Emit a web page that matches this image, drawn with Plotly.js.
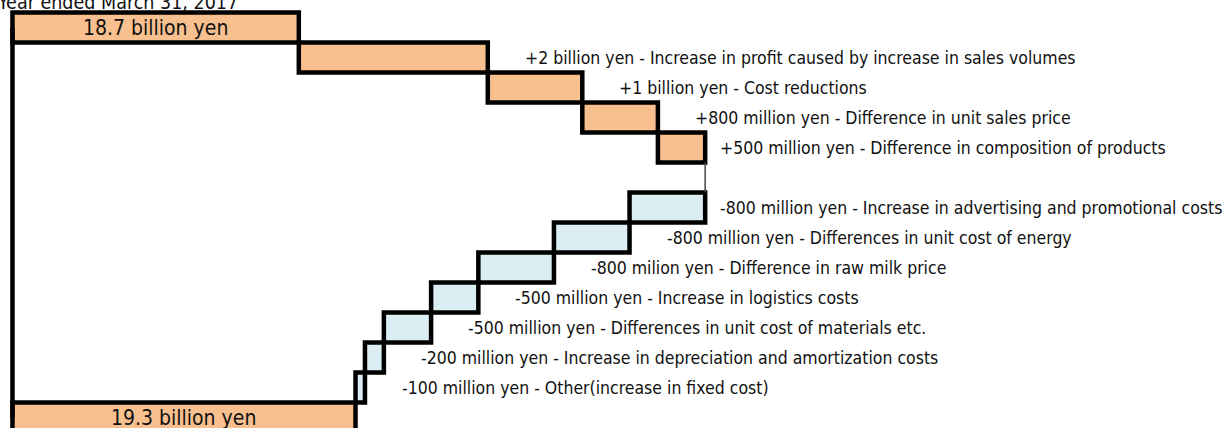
<!DOCTYPE html>
<html>
<head>
<meta charset="utf-8">
<script src="https://cdn.plot.ly/plotly-3.0.1.min.js"></script>
<style>
  html, body { margin: 0; padding: 0; background: #ffffff; }
  #chart { width: 1230px; height: 428px; }
</style>
</head>
<body>
<div id="chart"></div>
<script>
// ---- Data ----
const periodLabel = "Year ended March 31, 2017";
const startLabel = "18.7 billion yen";
const startValue = 18.7;          // billion yen
const endLabel = "19.3 billion yen";
const endValue = 19.3;            // billion yen
const changeValues = [2.0, 1.0, 0.8, 0.5, -0.8, -0.8, -0.8, -0.5, -0.5, -0.2, -0.1];  // billion yen
const changeLabels = [
  "+2 billion yen - Increase in profit caused by increase in sales volumes",
  "+1 billion yen - Cost reductions",
  "+800 million yen - Difference in unit sales price",
  "+500 million yen - Difference in composition of products",
  "-800 million yen - Increase in advertising and promotional costs",
  "-800 million yen - Differences in unit cost of energy",
  "-800 milion yen - Difference in raw milk price",
  "-500 million yen - Increase in logistics costs",
  "-500 million yen - Differences in unit cost of materials etc.",
  "-200 million yen - Increase in depreciation and amortization costs",
  "-100 million yen - Other(increase in fixed cost)"
];
// truncated axis: the value at which the two total bars are cut
const axisCut = 15.67;

// ---- Styles ----
const posFill = "#F9C08F";
const negFill = "#DAEEF3";
const totFill = "#F9C08F";
const edge = "#000000";
const fontFam = "'Liberation Sans Narrow', 'Arial Narrow', 'DejaVu Sans Condensed', 'Liberation Sans', Arial, sans-serif";

// ---- Build rows ----
const rowY = [], bases = [], lens = [], fills = [];
let row = 0;
rowY.push(row); bases.push(axisCut); lens.push(startValue - axisCut); fills.push(totFill);
let cum = startValue;
let prevSign = 1;
const changeRows = [];
changeValues.forEach((v, i) => {
  const sign = v >= 0 ? 1 : -1;
  row += (sign !== prevSign) ? 2 : 1;   // blank row between gains and losses
  prevSign = sign;
  rowY.push(row);
  bases.push(cum);
  lens.push(v);
  fills.push(v >= 0 ? posFill : negFill);
  changeRows.push({row: row, right: Math.max(cum, cum + v), start: cum, end: cum + v, label: changeLabels[i]});
  cum += v;
});
row += 1;
const endRow = row;
rowY.push(endRow); bases.push(axisCut); lens.push(endValue - axisCut); fills.push(totFill);

const peak = Math.max(...changeRows.map(r => r.right));

const barTrace = {
  type: "bar",
  orientation: "h",
  y: rowY,
  x: lens,
  base: bases,
  width: 1,
  marker: { color: fills, line: { color: edge, width: 4.5 } },
  hoverinfo: "skip",
  showlegend: false
};

const annotations = [];
annotations.push({
  x: (axisCut + startValue) / 2, y: 0, xref: "x", yref: "y",
  text: startLabel, showarrow: false, xanchor: "center", yanchor: "middle",
  font: { family: fontFam, size: 21, color: "#111" }
});
annotations.push({
  x: (axisCut + endValue) / 2, y: endRow, xref: "x", yref: "y",
  text: endLabel, showarrow: false, xanchor: "center", yanchor: "middle",
  font: { family: fontFam, size: 21, color: "#111" }
});
changeRows.forEach(r => {
  annotations.push({
    x: r.right, y: r.row, xref: "x", yref: "y",
    text: r.label, showarrow: false, xanchor: "left", yanchor: "middle",
    xshift: (r.right >= peak - 1e-9) ? 13 : 35,
    font: { family: fontFam, size: 17.5, color: "#111" }
  });
});
annotations.push({
  x: 0, y: 1, xref: "paper", yref: "paper",
  text: periodLabel, showarrow: false, xanchor: "left", yanchor: "middle",
  xshift: -5, yshift: -2,
  font: { family: fontFam, size: 19.5, color: "#111" }
});

const shapes = [];
// left spine joining the two truncated total bars
shapes.push({ type: "line", xref: "x", yref: "y", x0: axisCut, x1: axisCut, y0: 0, y1: endRow,
  line: { color: edge, width: 4.5 } });
// connector between the last gain and the first loss
for (let i = 1; i < changeRows.length; i++) {
  if (changeRows[i].row - changeRows[i - 1].row > 1) {
    shapes.push({ type: "line", xref: "x", yref: "y",
      x0: changeRows[i].start, x1: changeRows[i].start,
      y0: changeRows[i - 1].row + 0.5, y1: changeRows[i].row - 0.5,
      line: { color: "#444", width: 1.5 } });
  }
}

const layout = {
  width: 1230, height: 428,
  margin: { l: 0, r: 0, t: 0, b: 0, pad: 0 },
  paper_bgcolor: "#ffffff", plot_bgcolor: "#ffffff",
  bargap: 0,
  xaxis: { range: [15.538, 28.554], visible: false, showgrid: false, zeroline: false, fixedrange: true },
  yaxis: { range: [13.35, -0.917], visible: false, showgrid: false, zeroline: false, fixedrange: true },
  shapes: shapes,
  annotations: annotations
};

Plotly.newPlot("chart", [barTrace], layout, { displayModeBar: false, staticPlot: true });
</script>
</body>
</html>
